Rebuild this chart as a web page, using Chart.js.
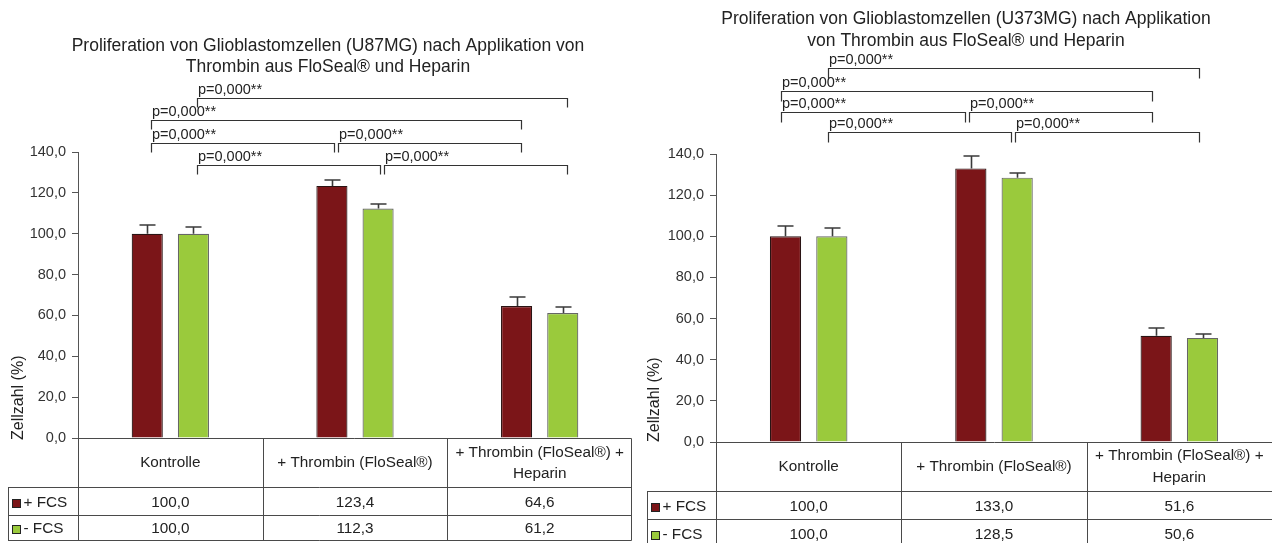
<!DOCTYPE html>
<html>
<head>
<meta charset="utf-8">
<script src="https://cdn.jsdelivr.net/npm/chart.js@4.4.1/dist/chart.umd.min.js"></script>
<style>
  html, body { margin: 0; padding: 0; background: #ffffff; }
  #wrap { position: relative; width: 1272px; height: 543px; overflow: hidden; }
  .panel { position: absolute; top: 0; width: 636px; height: 543px; }
  canvas { display: block; }
</style>
</head>
<body>
<div id="wrap">
  <div class="panel" style="left:0"><canvas id="u87" width="636" height="543"></canvas></div>
  <div class="panel" style="left:636px"><canvas id="u373" width="636" height="543"></canvas></div>
</div>
<script>
// Treatment groups (table header, one entry per line of text)
const categories = [
  ['Kontrolle'],
  ['+ Thrombin (FloSeal®)'],
  ['+ Thrombin (FloSeal®) +', 'Heparin']
];
const seriesNames = ['+ FCS', '- FCS'];

// U87MG cell count in % of control, with upper error (SD)
const u87PlusFCS = [100.0, 123.4, 64.6];
const u87MinusFCS = [100.0, 112.3, 61.2];
const u87PlusErr = [4.3, 2.9, 4.3];
const u87MinusErr = [3.4, 2.1, 2.8];

// U373MG cell count in % of control, with upper error (SD)
const u373PlusFCS = [100.0, 133.0, 51.6];
const u373MinusFCS = [100.0, 128.5, 50.6];
const u373PlusErr = [5.1, 5.8, 3.6];
const u373MinusErr = [3.9, 2.2, 1.7];

// Value axis
const yTickValues = [0, 20, 40, 60, 80, 100, 120, 140];
const yAxisTitle = 'Zellzahl (%)';

// Significance brackets: [dataset, category] -> [dataset, category], with row (0 = top)
const pLabel = 'p=0,000**';
const bracketPairs = [
  { from: [1, 0], to: [1, 2], row: 0 },
  { from: [0, 0], to: [0, 2], row: 1 },
  { from: [0, 0], to: [0, 1], row: 2 },
  { from: [0, 1], to: [0, 2], row: 2 },
  { from: [1, 0], to: [1, 1], row: 3 },
  { from: [1, 1], to: [1, 2], row: 3 }
];

const titleU87 = ['Proliferation von Glioblastomzellen (U87MG) nach Applikation von', 'Thrombin aus FloSeal® und Heparin'];
const titleU373 = ['Proliferation von Glioblastomzellen (U373MG) nach Applikation', 'von Thrombin aus FloSeal® und Heparin'];

const RED = '#7b1518';
const GREEN = '#9aca3c';
const FONT = '"Liberation Sans", Arial, sans-serif';
const TEXT = '#222222';
const LINE = '#4a4a4a';

const fmt = v => v.toFixed(1).replace('.', ',');

function makeDecor(c) {
  return {
    id: 'decor_' + c.id,
    afterDatasetsDraw(chart) {
      const ctx = chart.ctx;
      const ys = chart.scales.y;
      // upper error bars
      [c.errPlus, c.errMinus].forEach((errs, di) => {
        const meta = chart.getDatasetMeta(di);
        meta.data.forEach((bar, j) => {
          const v = chart.data.datasets[di].data[j];
          const yTop = Math.round(ys.getPixelForValue(v + errs[j]));
          const yBar = ys.getPixelForValue(v);
          const x = Math.round(bar.x) + 0.5;
          ctx.save();
          ctx.strokeStyle = '#3a3a3a';
          ctx.lineWidth = 1.6;
          ctx.beginPath();
          ctx.moveTo(x, yBar);
          ctx.lineTo(x, yTop);
          ctx.moveTo(x - 8, yTop);
          ctx.lineTo(x + 8, yTop);
          ctx.stroke();
          ctx.restore();
        });
      });
    },
    afterDraw(chart) {
      const ctx = chart.ctx;
      const ca = chart.chartArea;
      const ys = chart.scales.y;
      const xs = chart.scales.x;

      ctx.save();
      // title
      ctx.fillStyle = TEXT;
      ctx.font = c.titleFont + 'px ' + FONT;
      ctx.textAlign = 'center';
      ctx.textBaseline = 'middle';
      c.title.forEach((t, i) => ctx.fillText(t, c.titleX, c.titleY + i * c.titleGap));

      // y axis title, reading bottom to top
      ctx.save();
      ctx.translate(c.yTitleX, ca.bottom + c.yTitleShift);
      ctx.rotate(-Math.PI / 2);
      ctx.textAlign = 'left';
      ctx.textBaseline = 'middle';
      ctx.font = c.yTitleFont + 'px ' + FONT;
      ctx.fillText(yAxisTitle, 0, 0);
      ctx.restore();

      // significance brackets
      ctx.strokeStyle = '#333333';
      ctx.lineWidth = 1.2;
      ctx.font = c.pFont + 'px ' + FONT;
      ctx.textAlign = 'left';
      ctx.textBaseline = 'bottom';
      bracketPairs.forEach(b => {
        const a = chart.getDatasetMeta(b.from[0]).data[b.from[1]];
        const z = chart.getDatasetMeta(b.to[0]).data[b.to[1]];
        const yLine = Math.round(ys.getPixelForValue(c.bracketLevels[b.row])) + 0.5;
        const shared = (side, cat) => bracketPairs.some(o => o !== b && o.row === b.row &&
          (side === 'L' ? (o.to[1] === cat && o.to[0] === b.from[0]) : (o.from[1] === cat && o.from[0] === b.to[0])));
        let x1 = a.x + c.bracketShift + (shared('L', b.from[1]) ? 2 : 0);
        let x2 = z.x + c.bracketShift - (shared('R', b.to[1]) ? 2 : 0);
        x1 = Math.round(x1) + 0.5;
        x2 = Math.round(x2) + 0.5;
        ctx.beginPath();
        ctx.moveTo(x1, yLine + c.legLen);
        ctx.lineTo(x1, yLine);
        ctx.lineTo(x2, yLine);
        ctx.lineTo(x2, yLine + c.legLen);
        ctx.stroke();
        ctx.fillText(pLabel, x1 + 0.5, yLine - 1);
      });

      // data table below the plot
      const T = c.table;
      const centers = [0, 1, 2].map(i => xs.getPixelForValue(i));
      const bounds = [ca.left, (centers[0] + centers[1]) / 2, (centers[1] + centers[2]) / 2, ca.right];
      const top = Math.round(ca.bottom) + 0.5;
      const headBottom = top + T.headerH;
      const row1 = headBottom + T.rowH[0];
      const row2 = row1 + T.rowH[1];
      const rightX = T.rightBorder ? Math.round(ca.right) - 0.5 : ca.right + 2;
      ctx.strokeStyle = LINE;
      ctx.lineWidth = 1;
      ctx.beginPath();
      // horizontal rules
      ctx.moveTo(ca.left, top); ctx.lineTo(rightX, top);
      [headBottom, row1, row2].forEach(yy => { ctx.moveTo(T.left, yy); ctx.lineTo(rightX, yy); });
      // vertical rules
      ctx.moveTo(T.left + 0.5, headBottom); ctx.lineTo(T.left + 0.5, row2);
      bounds.slice(0, 3).forEach(bx => { const xx = Math.round(bx) + 0.5; ctx.moveTo(xx, top); ctx.lineTo(xx, row2); });
      if (T.rightBorder) { ctx.moveTo(rightX, top); ctx.lineTo(rightX, row2); }
      ctx.stroke();

      ctx.fillStyle = TEXT;
      ctx.font = c.tableFont + 'px ' + FONT;
      ctx.textAlign = 'center';
      ctx.textBaseline = 'middle';
      categories.forEach((lines, i) => {
        const cx = (bounds[i] + bounds[i + 1]) / 2;
        const cy = (top + headBottom) / 2;
        const n = lines.length;
        lines.forEach((t, k) => ctx.fillText(t, cx, cy + (k - (n - 1) / 2) * c.tableLineGap));
      });
      const rows = [[top + T.headerH, row1], [row1, row2]];
      const vals = [c.plus, c.minus];
      const fills = [RED, GREEN];
      rows.forEach(([r0, r1], ri) => {
        const cy = (r0 + r1) / 2 + 1;
        vals[ri].forEach((v, i) => ctx.fillText(fmt(v), (bounds[i] + bounds[i + 1]) / 2, cy));
        // legend key inside the row header
        const sx = T.left + 4.5;
        ctx.fillStyle = fills[ri];
        ctx.fillRect(sx, Math.round(cy - 4) + 0.5, 8, 8);
        ctx.strokeStyle = '#222';
        ctx.strokeRect(sx, Math.round(cy - 4) + 0.5, 8, 8);
        ctx.fillStyle = TEXT;
        ctx.textAlign = 'left';
        ctx.fillText(seriesNames[ri], sx + 11, cy);
        ctx.textAlign = 'center';
      });
      ctx.restore();
    }
  };
}

function buildChart(c) {
  return new Chart(document.getElementById(c.id), {
    type: 'bar',
    data: {
      labels: categories.map(l => l.join(' ')),
      datasets: [
        { label: seriesNames[0], data: c.plus, backgroundColor: RED, borderColor: '#2a1414', borderWidth: 1.2,
          categoryPercentage: 0.5, barPercentage: 0.674 },
        { label: seriesNames[1], data: c.minus, backgroundColor: GREEN, borderColor: '#666666', borderWidth: 1.2,
          categoryPercentage: 0.5, barPercentage: 0.674 }
      ]
    },
    options: {
      responsive: false,
      animation: false,
      devicePixelRatio: 1,
      layout: { padding: { top: c.padTop, bottom: c.padBottom, right: c.padRight, left: 0 } },
      plugins: { legend: { display: false }, title: { display: false }, tooltip: { enabled: false } },
      scales: {
        x: { display: false },
        y: {
          min: 0, max: 140,
          afterBuildTicks: s => { s.ticks = yTickValues.map(v => ({ value: v })); },
          afterFit: s => { s.width = c.axisX; },
          ticks: { callback: v => fmt(v), color: '#333333', padding: c.tickPad,
                   font: { family: FONT, size: c.tickFont } },
          grid: { drawOnChartArea: false, drawTicks: true, tickLength: 6, color: '#555555' },
          border: { display: true, color: '#555555', width: 1 }
        }
      }
    },
    plugins: [makeDecor(c)]
  });
}

buildChart({
  id: 'u87', plus: u87PlusFCS, minus: u87MinusFCS, errPlus: u87PlusErr, errMinus: u87MinusErr,
  title: titleU87, titleX: 328, titleY: 46, titleGap: 21, titleFont: 17.5,
  padTop: 152, padBottom: 105, padRight: 4, axisX: 78, tickFont: 14.5, tickPad: 6,
  yTitleX: 19, yTitleShift: 2, yTitleFont: 16,
  bracketLevels: [166.4, 155.6, 144.4, 133.6], bracketShift: 4, legLen: 9, pFont: 14.5,
  table: { left: 8, headerH: 49, rowH: [28, 25], rightBorder: true },
  tableFont: 15.3, tableLineGap: 21
});

buildChart({
  id: 'u373', plus: u373PlusFCS, minus: u373MinusFCS, errPlus: u373PlusErr, errMinus: u373MinusErr,
  title: titleU373, titleX: 330, titleY: 19, titleGap: 22, titleFont: 17.5,
  padTop: 154, padBottom: 101, padRight: 0, axisX: 80, tickFont: 14.5, tickPad: 6,
  yTitleX: 19, yTitleShift: 0, yTitleFont: 16,
  bracketLevels: [182.0, 170.8, 160.6, 150.9], bracketShift: -4, legLen: 10, pFont: 14.5,
  table: { left: 11, headerH: 49, rowH: [28, 28], rightBorder: false },
  tableFont: 15.3, tableLineGap: 22
});
</script>
</body>
</html>
